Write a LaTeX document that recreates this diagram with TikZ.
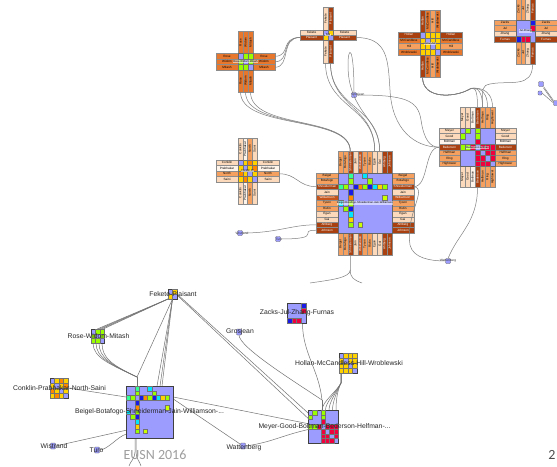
\documentclass[tikz,border=0pt]{standalone}
\usepackage{fontspec}
\setmainfont{Liberation Sans}
\newfontfamily\slidefont{Carlito}
\usetikzlibrary{calc,backgrounds}

\definecolor{lav}{HTML}{9C9CFF}
\definecolor{dkB}{HTML}{A8410F}
\definecolor{dkM}{HTML}{C4541C}
\definecolor{orS}{HTML}{E8772E}
\definecolor{orM}{HTML}{F5A05E}
\definecolor{pch}{HTML}{FCD9BA}
\definecolor{wht}{HTML}{FFF4EA}
\definecolor{cG}{HTML}{99FF00}
\definecolor{cYG}{HTML}{CCFF00}
\definecolor{cY}{HTML}{FFD200}
\definecolor{cO}{HTML}{FF8800}
\definecolor{cR}{HTML}{F0003C}
\definecolor{cB}{HTML}{1A1AE6}
\definecolor{cC}{HTML}{00E6FF}
\definecolor{cT}{HTML}{33FF99}
\definecolor{lnk}{HTML}{808080}

\tikzset{
  lab/.style={draw=black!45, line width=0.2pt, inner sep=0pt, outer sep=0pt, font=\fontsize{3.1}{3.4}\selectfont},
  mat/.style={draw=black!60, fill=lav, line width=0.3pt, inner sep=0pt, outer sep=0pt},
  gmat/.style={draw=black!75, fill=lav, line width=0.4pt, inner sep=0pt, outer sep=0pt},
  ovl/.style={fill=white, fill opacity=0.55, text opacity=1, inner sep=0.3pt, font=\fontsize{2.7}{3}\selectfont},
  link/.style={draw=lnk, line width=0.5pt},
  glink/.style={draw=black!55, line width=0.5pt},
  glab/.style={inner sep=0pt, font=\fontsize{6.8}{7}\selectfont, text=black!85},
  tlab/.style={inner sep=0pt, font=\fontsize{3.2}{3.5}\selectfont, text=black!80},
  sbox/.style={draw=black!60, fill=lav, minimum width=5, minimum height=5, inner sep=0pt, outer sep=0pt, rounded corners=0.8pt},
}

% NodeTrix cross: name, x0, y0, n, cell width, cell height, label length, rows
\newcommand\ntx[8]{%
  \foreach \lb/\fc/\tc [count=\k] in {#8}{%
    \node[lab, fill=\fc, text=\tc, minimum width=#7, minimum height=#6] (#1-L\k) at ({#2-#7/2},{#3+(\k-0.5)*#6}) {\lb};
    \node[lab, fill=\fc, text=\tc, minimum width=#7, minimum height=#6] (#1-R\k) at ({#2+#4*#5+#7/2},{#3+(\k-0.5)*#6}) {\lb};
    \node[lab, fill=\fc, text=\tc, minimum width=#7, minimum height=#5, rotate=90] (#1-T\k) at ({#2+(\k-0.5)*#5},{#3-#7/2}) {\lb};
    \node[lab, fill=\fc, text=\tc, minimum width=#7, minimum height=#5, rotate=90] (#1-B\k) at ({#2+(\k-0.5)*#5},{#3+#4*#6+#7/2}) {\lb};
  }%
  \node[mat, minimum width={#4*#5}, minimum height={#4*#6}, anchor=north west] (#1) at (#2,#3) {};
}
% coloured cells of a matrix: name, cell width, cell height, list
\newcommand\cells[4]{%
  \foreach \ri/\ci/\co in #4{%
    \filldraw[fill=\co, draw=black!55, line width=0.15pt] ($(#1.north west)+({(\ci-1)*#2},{(\ri-1)*#3})$) rectangle ++(#2,#3);
  }}
% aggregated node of the graph view: name, x0, y0, n, cell width, cell height
\newcommand\gbox[6]{\node[gmat, minimum width={#4*#5}, minimum height={#4*#6}, anchor=north west] (#1) at (#2,#3) {};}

\def\celRose{1/2/cG,1/3/cG,2/1/cG,2/3/cG,3/1/cG,3/2/cG}
\def\celFek{1/2/cY,2/1/cY}
\def\celHol{1/2/cY,1/3/cY,1/4/cY,2/1/cY,2/3/cY,2/4/cY,3/1/cY,3/2/cY,3/4/cY,4/1/cY,4/2/cY,4/3/cY}
\def\celZac{1/4/cB,2/4/cR,4/1/cB,4/2/cR,4/3/cR}
\def\celCon{1/2/cY,1/3/cO,1/4/cY,2/1/cY,2/3/cY,2/4/cO,3/1/cO,3/2/cY,3/4/cY,4/1/cY,4/2/cO,4/3/cY}
\def\celBei{1/3/cT,2/3/cG,3/1/cT,3/2/cG,3/4/cB,3/5/cO,3/6/cG,3/7/cB,3/8/cC,3/9/cY,3/10/cG,4/3/cB,5/3/cO,6/3/cG,7/3/cB,8/3/cC,9/3/cY,10/3/cG,1/6/cC,6/1/cC,2/7/cG,7/2/cG,5/10/cYG,10/5/cYG}
\def\celMey{1/2/cG,2/1/cG,1/4/cG,2/4/cG,4/1/cG,4/2/cG,3/4/cR,4/3/cR,4/5/cR,4/6/cR,4/7/cR,5/4/cR,5/6/cR,5/7/cR,6/4/cR,6/5/cR,6/7/cR,7/4/cR,7/5/cR,7/6/cR}

\begin{document}
\begin{tikzpicture}[x=1pt,y=-1pt]
\useasboundingbox (0,0) rectangle (557,466);
\begin{scope}[on background layer]
  \fill[white] (0,0) rectangle (557,466);
\end{scope}

% ---------- NodeTrix view ----------
\ntx{rose}{238}{53.5}{3}{5}{5.5}{22}{Rose/orS/black,Widom/orS/black,Mitash/orS/black}
\cells{rose}{5}{5.5}{\celRose}
\node[ovl] (rose-t) at (rose.center) {Rose-Widom-Mitash};

\ntx{fek}{323}{30}{2}{5}{5}{23}{Fekete/pch/black,Plaisant/dkB/white}
\cells{fek}{5}{5}{\celFek}
\node[ovl] (fek-t) at (fek.center) {Fek};

\ntx{hol}{420}{32}{4}{5}{5.75}{22}{Hollan/dkB/white,McCandless/orS/black,Hill/orM/black,Wroblewski/orS/black}
\cells{hol}{5}{5.75}{\celHol}
\node[ovl] (hol-t) at (hol.center) {Hollan-Mc};

\ntx{zac}{516}{20}{4}{4.75}{5.5}{22}{Zacks/orM/black,Jul/orM/black,Zhang/pch/black,Furnas/dkB/white}
\cells{zac}{4.75}{5.5}{\celZac}
\node[ovl] (zac-t) at (zac.center) {Jul-Zhang};

\ntx{con}{238}{160}{4}{4.75}{5.5}{22}{Conklin/pch/black,Prabhakar/wht/black,North/orM/black,Saini/pch/black}
\cells{con}{4.75}{5.5}{\celCon}
\node[ovl] (con-t) at (con.center) {Conklin-Pr};

\ntx{bei}{338}{173}{11}{4.9}{5.45}{22}{Beigel/orM/black,Botafogo/orM/black,Shneiderman/dkB/white,Jain/pch/black,Williamson/dkM/white,Tyson/orM/black,Rivlin/orM/black,Egan/pch/black,Gai/pch/black,Ahlberg/dkB/white,Johnson/dkB/white}
\cells{bei}{4.9}{5.45}{\celBei}
\node[ovl] (bei-t) at (bei.center) {Beigel-Botafogo-Shneiderman-Jain-Williamson};

\ntx{mey}{460}{128}{7}{5}{5.5}{21}{Meyer/pch/black,Good/pch/black,Boltman/wht/black,Bederson/dkB/white,Helfman/orM/black,Ring/orM/black,Hightower/orM/black}
\cells{mey}{5}{5.5}{\celMey}
\node[ovl] (mey-t) at (mey.center) {Bederson-Helfman};

% single actors
\node[sbox] (tGro) at (354,95) {};
\node[tlab] (tGro-l) at (358,95) {Grosjean};
\node[sbox] (tWis) at (240,233) {};
\node[tlab] (tWis-l) at (242,233) {Wistrand};
\node[sbox] (tTur) at (278,239) {};
\node[tlab] (tTur-l) at (279,239) {Turo};
\node[sbox] (tWat) at (448,261) {};
\node[tlab] (tWat-l) at (448,261) {Wattenberg};
\node[sbox] (tA) at (541,84) {};
\node[sbox, minimum width=4, minimum height=4] (tB) at (540,93) {};
\node[sbox] (tC) at (556,103) {};
\coordinate (tBL) at (310,283);
\coordinate (tBR) at (362,283);

% links between the matrices
\foreach \k in {1,2,3}
  \draw[link] (rose-R\k.east) .. controls +(16,0) and +(-20,0) .. (fek-L2.west);
\foreach \k in {1,2,3}
  \draw[link] (rose-B\k.west) .. controls +(0,38) and +(0,-36) .. (bei-T3.east);
\draw[link] (fek-B1.west) .. controls +(0,45) and +(0,-45) .. (bei-T8.east);
\draw[link] (fek-B2.west) .. controls +(0,45) and +(0,-45) .. (bei-T8.east);
\draw[link] (fek-B2.west) .. controls +(0,45) and +(0,-45) .. (bei-T9.east);
\draw[link] (tGro.north) .. controls (354,45) and (348,45) .. (348,65) .. controls (348,112) and (380,118) .. (bei-T9.east);
\draw[link] (fek-R2.east) .. controls (388,37.5) and (388,60) .. (390,90) .. controls (392,130) and (415,147) .. (mey-L4.west);
\draw[link] (tGro.east) .. controls (405,95) and (418,100) .. (421,120) .. controls (424,140) and (430,147) .. (mey-L4.west);
\foreach \k in {4,...,7}
  \draw[link] (hol-B1.west) .. controls +(0,23) and (455,97) .. (468,90) .. controls (474,86) and +(0,-20) .. (mey-T\k.east);
\draw[link] (zac-B4.west) .. controls +(0,25) and (510,80) .. (490,84) .. controls (482,86) and +(0,-20) .. (mey-T5.east);
\draw[link] (con-R3.east) .. controls +(18,0) and +(-18,0) .. (bei-L3.west);
\draw[link] (bei-L10.west) .. controls +(-25,0) and +(35,0) .. (tWis.east);
\draw[link] (bei-L11.west) .. controls +(-20,0) and +(45,0) .. (tTur.east);
\draw[link] (bei-R3.east) .. controls +(15,0) and +(-15,0) .. (mey-L4.west);
\draw[link] (bei-R3.east) .. controls (428,189) and (405,215) .. (410,245) .. controls (413,258) and (430,261) .. (tWat.west);
\draw[link] (mey-B4.west) .. controls +(0,35) and +(10,-25) .. (tWat.north);
\draw[link] (bei-B3.west) -- ++(0,15) .. controls +(0,8) and +(20,-3) .. (tBL);
\draw[link] (bei-B3.west) ++(0,15) .. controls +(0,8) and +(-8,-3) .. (tBR);
\draw[link] (tA.south east) -- (tC.north west);
\draw[link] ($(tA.south east)+(0,1.5)$) -- ($(tC.north west)+(0,1.5)$);
\draw[link] (tB.east) -- (tC.west);

% ---------- aggregated graph view ----------
\gbox{gFek}{168}{289}{2}{4.5}{5}
\gbox{gRose}{91}{329}{3}{4.4}{4.7}
\gbox{gCon}{50}{378}{4}{4.5}{5}
\gbox{gBei}{126}{386}{11}{4.3}{4.75}
\gbox{gZac}{287}{303}{4}{4.75}{5}
\gbox{gHol}{339}{353}{4}{4.5}{5}
\gbox{gMey}{308}{410}{7}{4.3}{4.75}
\node[sbox, minimum height=6] (gGro) at (239,332) {};
\node[sbox, minimum height=6] (gWat) at (243,446) {};
\node[sbox, minimum height=6] (gWis) at (53,446) {};
\node[sbox, minimum height=6] (gTur) at (97,450) {};
\coordinate (bJ) at (137,377);
\coordinate (mJ) at (322,400);
\coordinate (gOut1) at (129,466);
\coordinate (gOut2) at (141,466);

\begin{scope}[on background layer]
  \foreach \d in {1,3,5,7}
    \draw[glink] (gFek.south west) -- ($(gRose.north east)+(-\d,0)$);
  \foreach \d in {31,34,36}
    \draw[glink] (gFek.south) -- ($(gBei.north west)+(\d,0)$);
  \draw[glink] (gFek.south) -- (bJ);
  \foreach \d in {2,5,8,11}
    \draw[glink] ($(gRose.south west)+(\d,0)$) .. controls +(0,15) and +(-25,-12) .. (bJ);
  \draw[glink] (bJ) -- ($(gBei.north west)+(11,0)$);
  \draw[glink] (gCon.east) -- ($(gBei.north west)+(0,11)$);
  \draw[glink] ($(gBei.north east)+(0,11)$) -- (gMey.center);
  \draw[glink] ($(gBei.north east)+(0,13)$) -- (gWat.center);
  \draw[glink] (gWat.east) .. controls (275,442) and (285,433) .. (gMey.center);
  \draw[glink] (gFek.east) -- (gMey.center);
  \draw[glink] ($(gFek.east)+(1,2)$) -- ($(gMey.center)+(-3,3)$);
  \draw[glink] (gGro.south) .. controls +(0,12) and +(-30,-20) .. (mJ);
  \draw[glink] ($(gZac.south)+(6,0)$) .. controls +(0,30) and +(-3,-30) .. (mJ);
  \draw[glink] (mJ) -- (mJ |- gMey.north);
  \foreach \d in {0,...,4}
    \draw[glink] ($(gHol.south west)+(2,0)$) -- ++(0,10) .. controls +(-4,8) and +(0,-8) .. ($(gMey.north west)+(14+\d*3.5,0)$);
  \draw[glink] (gWis.east) -- ($(gBei.south west)+(0,-8)$);
  \draw[glink] (gTur.east) .. controls +(8,0) and +(-8,2) .. ($(gBei.south west)+(0,-4)$);
  \draw[glink] ($(gBei.south west)+(9,0)$) -- ++(0,14) .. controls +(0,6) and +(1,-4) .. (gOut1);
  \draw[glink] ($(gBei.south west)+(10,0)$) -- ++(0,14) .. controls +(0,6) and +(-1,-4) .. (gOut2);
\end{scope}

\cells{gFek}{4.5}{5}{\celFek}
\cells{gRose}{4.4}{4.7}{\celRose}
\cells{gCon}{4.5}{5}{\celCon}
\cells{gBei}{4.3}{4.75}{\celBei}
\cells{gZac}{4.75}{5}{\celZac}
\cells{gHol}{4.5}{5}{\celHol}
\cells{gMey}{4.3}{4.75}{\celMey}

\node[glab] (gFek-l) at (173,294) {Fekete-Plaisant};
\node[glab] (gRose-l) at (98.5,336) {Rose-Widom-Mitash};
\node[glab] (gCon-l) at (59.5,388) {Conklin-Prabhakar-North-Saini};
\node[glab] (gBei-l) at (149.5,412) {Beigel-Botafogo-Shneiderman-Jain-Williamson-...};
\node[glab] (gWis-l) at (54,446) {Wistrand};
\node[glab] (gTur-l) at (96.5,450) {Turo};
\node[glab] (gGro-l) at (240,332) {Grosjean};
\node[glab] (gWat-l) at (244,448) {Wattenberg};
\node[glab] (gZac-l) at (297,313) {Zacks-Jul-Zhang-Furnas};
\node[glab] (gHol-l) at (349,363) {Hollan-McCandless-Hill-Wroblewski};
\node[glab] (gMey-l) at (324.5,427) {Meyer-Good-Boltman-Bederson-Helfman-...};

\node[font=\slidefont\fontsize{14}{16}\selectfont, text=black!38, inner sep=0pt] (eusn) at (155,455) {EUSN 2016};
\node[font=\slidefont\fontsize{14}{16}\selectfont, text=black!70, inner sep=0pt] (pgno) at (552,455) {2};
\end{tikzpicture}
\end{document}
